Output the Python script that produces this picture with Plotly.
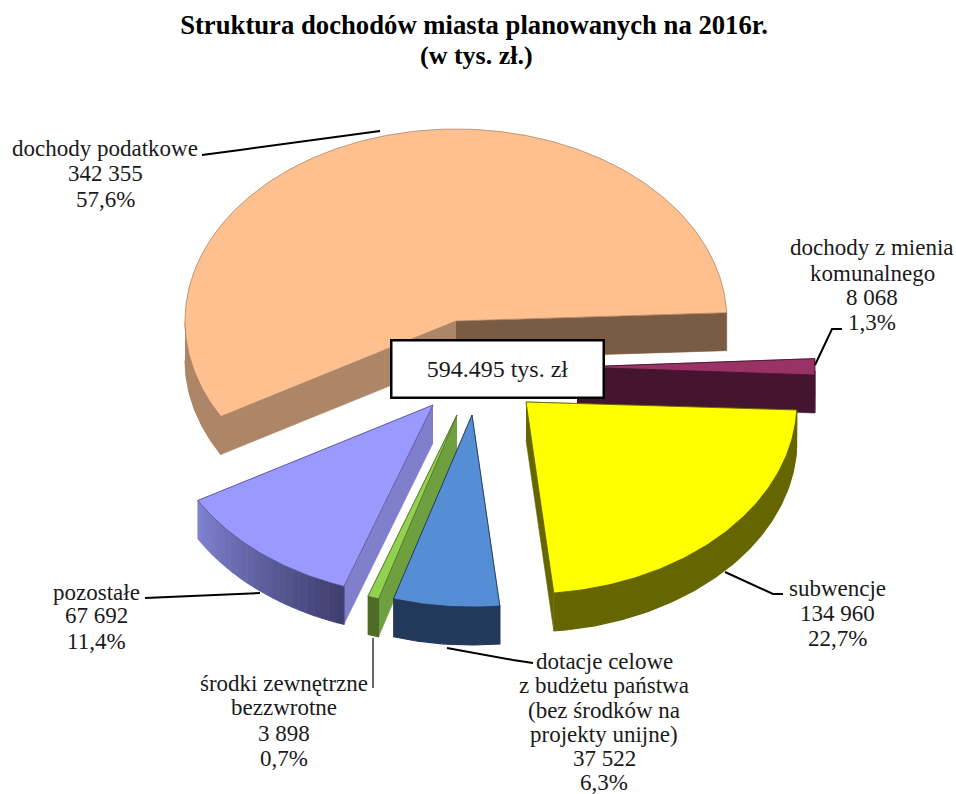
import numpy as np
import plotly.graph_objects as go

# ---- data ----
names = ["dochody podatkowe", "pozostałe", "środki zewnętrzne bezzwrotne",
         "dotacje celowe", "subwencje", "dochody z mienia komunalnego"]
values = [342355, 67692, 3898, 37522, 134960, 8068]
percent_labels = ["57,6%", "11,4%", "0,7%", "6,3%", "22,7%", "1,3%"]
value_labels = ["342 355", "67 692", "3 898", "37 522", "134 960", "8 068"]
total_label = "594.495 tys. zł"
title_line_1 = "<b>Struktura dochodów miasta planowanych na 2016r.</b>"
title_line_2 = "<b>(w tys. zł.)</b>"

# ---- geometry / style (slices run counter-clockwise from START) ----
W, H = 956, 794
START = 2.5
RY, DEPTH = 192, 38
FONT = "Liberation Serif"
style = {
    0: dict(c=(456, 321), rx=271, top="#FFC08F", edge="#AD8567", cut_start="#7A5C45", cut_end="#AD8567", side=("#AD8567", "#AD8567")),
    1: dict(c=(433, 405), rx=271, top="#9999FF", edge="#55558F", cut_start="#7F7FCC", cut_end="#7F7FCC", side=("#8080D0", "#3F3F70")),
    2: dict(c=(457, 415), rx=271, top="#92D050", edge="#4F6B28", cut_start="#6FA03F", cut_end="#6FA03F", side=("#4F6B28", "#4F6B28")),
    3: dict(c=(472, 415), rx=271, top="#558ED5", edge="#23395B", cut_start="#23395B", cut_end="#23395B", side=("#23395B", "#23395B")),
    4: dict(c=(526, 402), rx=271, top="#FFFF00", edge="#5A5A00", cut_start="#666600", cut_end="#666600", side=("#666600", "#666600")),
    5: dict(c=(577, 367), rx=238, top="#993366", edge="#45152F", cut_start="#45152F", cut_end="#45152F", side=("#45152F", "#45152F")),
}
draw_order = [0, 5, 4, 1, 2, 3]

shares = np.array(values) / sum(values)
edges = START + 360 * np.concatenate([[0], np.cumsum(shares)])


def mix(a, b, t):
    pa = [int(a[i:i + 2], 16) for i in (1, 3, 5)]
    pb = [int(b[i:i + 2], 16) for i in (1, 3, 5)]
    return "rgb(%d,%d,%d)" % tuple(round(x + (y - x) * t) for x, y in zip(pa, pb))


def poly(fig, xs, ys, fill, line=None, width=0.6):
    fig.add_trace(go.Scatter(x=list(xs), y=list(ys), mode="lines", fill="toself",
                             fillcolor=fill, line=dict(color=line or fill, width=width),
                             hoverinfo="skip", showlegend=False))


fig = go.Figure()
for i in draw_order:
    s = style[i]
    cx, cy = s["c"]
    rx = s["rx"]
    a = np.radians(np.linspace(edges[i], edges[i + 1], max(3, int((edges[i + 1] - edges[i]) * 1.2))))
    px = cx + rx * np.cos(a)
    py = cy - RY * np.sin(a)
    # cut faces
    poly(fig, [cx, px[0], px[0], cx], [cy, py[0], py[0] + DEPTH, cy + DEPTH], s["cut_start"])
    poly(fig, [cx, px[-1], px[-1], cx], [cy, py[-1], py[-1] + DEPTH, cy + DEPTH], s["cut_end"])
    # outer wall, front half of the rim only; one piece, or strips where it shades along the arc
    front = np.where(np.sin(a) <= 0)[0]
    if len(front) > 1:
        fx, fy = px[front], py[front]
        nseg = 1 if s["side"][0] == s["side"][1] else min(len(front) - 1, 24)
        idx = np.linspace(0, len(front) - 1, nseg + 1).astype(int)
        for k in range(nseg):
            j0, j1 = idx[k], idx[k + 1]
            x_seg = list(fx[j0:j1 + 1])
            y_seg = list(fy[j0:j1 + 1])
            poly(fig, x_seg + x_seg[::-1], y_seg + [v + DEPTH for v in y_seg[::-1]],
                 mix(s["side"][0], s["side"][1], k / max(1, nseg - 1)), width=1.2)
    # top face
    poly(fig, [cx, *px, cx], [cy, *py, cy], s["top"], s["edge"], 0.8)

# leader lines
leaders = [
    ([(202, 155), (240, 150), (380, 131)], 2),
    ([(815, 365), (832, 329), (842, 329)], 2),
    ([(725, 572), (773, 594), (783, 594)], 2),
    ([(447, 648), (513, 660), (533, 663)], 2),
    ([(373, 638), (373, 688)], 1.2),
    ([(145, 598), (260, 593)], 2),
]
shapes = []
for pts, w in leaders:
    path = "M " + " L ".join(f"{x},{y}" for x, y in pts)
    shapes.append(dict(type="path", path=path, xref="x", yref="y", line=dict(color="black", width=w)))


def label(lines, x, ys):
    return [dict(text=t, x=x, y=y, xref="x", yref="y", showarrow=False, align="center",
                 xanchor="center", yanchor="middle", font=dict(family=FONT, size=23, color="#1a1a1a"))
            for t, y in zip(lines, ys)]


annotations = (
    label([names[0], value_labels[0], percent_labels[0]], 105, [148, 173, 199])
    + label(["pozostałe", value_labels[1], percent_labels[1]], 96, [592, 615, 641])
    + label(["środki zewnętrzne", "bezzwrotne", value_labels[2], percent_labels[2]], 284, [683, 707, 733, 758])
    + label(["dotacje celowe", "z budżetu państwa", "(bez środków na", "projekty unijne)",
             value_labels[3], percent_labels[3]], 604, [661, 685.5, 710, 734, 758, 782])
    + label(["subwencje", value_labels[4], percent_labels[4]], 837, [588, 613, 638])
    + label(["dochody z mienia", "komunalnego", value_labels[5], percent_labels[5]], 872, [247, 273, 297, 322])
    + [dict(text=title_line_2, x=476, y=55, xref="x", yref="y", showarrow=False,
            xanchor="center", yanchor="middle", font=dict(family=FONT, size=26, color="black")),
       dict(text=total_label, x=497.5, y=368.5, xref="x", yref="y", showarrow=False, align="center",
            xanchor="center", yanchor="middle", width=210, height=55, bgcolor="white",
            bordercolor="black", borderwidth=2.5, borderpad=0,
            font=dict(family=FONT, size=24, color="#1a1a1a"))]
)

fig.update_layout(
    width=W, height=H, margin=dict(l=0, r=0, t=0, b=0),
    paper_bgcolor="white", plot_bgcolor="white", showlegend=False,
    title=dict(text=title_line_1, x=474 / W, xanchor="center",
               y=1 - 25 / H, yanchor="middle",
               font=dict(family=FONT, size=26.7, color="black")),
    xaxis=dict(range=[0, W], visible=False, fixedrange=True),
    yaxis=dict(range=[H, 0], visible=False, fixedrange=True),
    shapes=shapes, annotations=annotations,
)
fig.write_html("out.html", default_width=f"{W}px", default_height=f"{H}px",
               config={"displayModeBar": False},
               post_script="document.body.style.margin='0';document.body.style.overflow='hidden';")
